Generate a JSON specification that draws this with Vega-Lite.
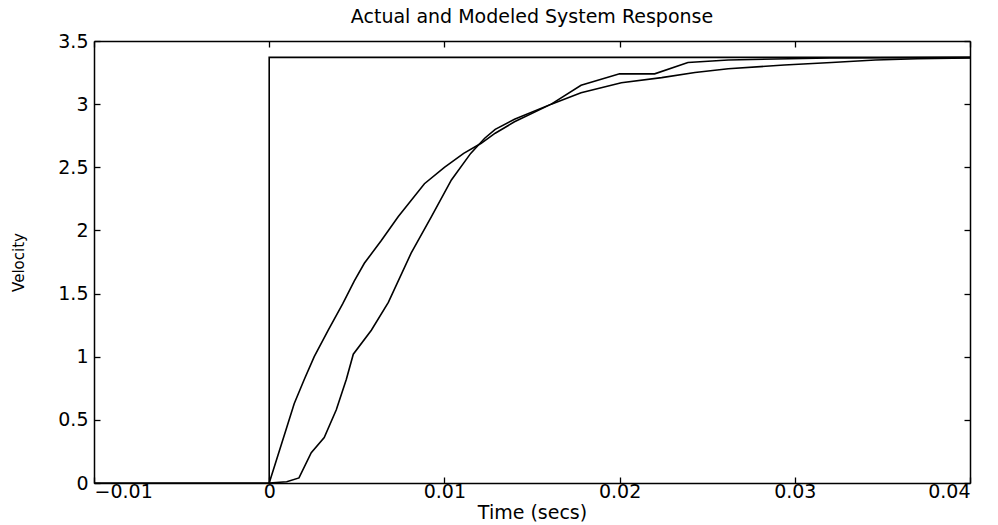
{
  "$schema": "https://vega.github.io/schema/vega-lite/v6.json",
  "width": 876,
  "height": 442,
  "autosize": {"type": "none"},
  "padding": {"left": 94, "top": 41, "right": 28, "bottom": 42},
  "background": "white",
  "title": {
    "text": "Actual and Modeled System Response",
    "font": "DejaVu Sans",
    "fontSize": 19,
    "fontWeight": "normal",
    "color": "black",
    "anchor": "middle",
    "baseline": "alphabetic",
    "offset": -10
  },
  "config": {
    "view": {"stroke": null},
    "axis": {
      "domainColor": "black",
      "domainWidth": 1.5,
      "tickColor": "black",
      "tickWidth": 1.3,
      "tickSize": -6,
      "grid": false,
      "labelFont": "DejaVu Sans",
      "labelFontSize": 19,
      "labelColor": "black",
      "titleColor": "black",
      "titleFontWeight": "normal",
      "titleFont": "DejaVu Sans"
    }
  },
  "datasets": {
    "input": [
      {"t": -0.01, "v": 0},
      {"t": 0, "v": 0},
      {"t": 0, "v": 3.37},
      {"t": 0.04, "v": 3.37}
    ],
    "curves": [
      {"series": "Model", "t": 0, "v": 0},
      {"series": "Model", "t": 0.0005, "v": 0.22},
      {"series": "Model", "t": 0.001, "v": 0.44},
      {"series": "Model", "t": 0.00143, "v": 0.63},
      {"series": "Model", "t": 0.002, "v": 0.82},
      {"series": "Model", "t": 0.00257, "v": 1.0},
      {"series": "Model", "t": 0.00337, "v": 1.21},
      {"series": "Model", "t": 0.0042, "v": 1.42},
      {"series": "Model", "t": 0.00486, "v": 1.6},
      {"series": "Model", "t": 0.00543, "v": 1.74},
      {"series": "Model", "t": 0.0064, "v": 1.92},
      {"series": "Model", "t": 0.00737, "v": 2.11},
      {"series": "Model", "t": 0.00886, "v": 2.37},
      {"series": "Model", "t": 0.01, "v": 2.5},
      {"series": "Model", "t": 0.0111, "v": 2.61},
      {"series": "Model", "t": 0.0121, "v": 2.69},
      {"series": "Model", "t": 0.0129, "v": 2.77},
      {"series": "Model", "t": 0.014, "v": 2.86},
      {"series": "Model", "t": 0.0161, "v": 3.0},
      {"series": "Model", "t": 0.0178, "v": 3.09},
      {"series": "Model", "t": 0.0201, "v": 3.17},
      {"series": "Model", "t": 0.0224, "v": 3.21},
      {"series": "Model", "t": 0.0243, "v": 3.25},
      {"series": "Model", "t": 0.0262, "v": 3.28},
      {"series": "Model", "t": 0.0294, "v": 3.31},
      {"series": "Model", "t": 0.0321, "v": 3.33},
      {"series": "Model", "t": 0.0346, "v": 3.35},
      {"series": "Model", "t": 0.037, "v": 3.36},
      {"series": "Model", "t": 0.04, "v": 3.365},
      {"series": "Actual", "t": 0, "v": 0},
      {"series": "Actual", "t": 0.001, "v": 0.01},
      {"series": "Actual", "t": 0.0017, "v": 0.04},
      {"series": "Actual", "t": 0.0024, "v": 0.24},
      {"series": "Actual", "t": 0.00314, "v": 0.36},
      {"series": "Actual", "t": 0.00383, "v": 0.58},
      {"series": "Actual", "t": 0.0044, "v": 0.82},
      {"series": "Actual", "t": 0.0048, "v": 1.02},
      {"series": "Actual", "t": 0.00583, "v": 1.21},
      {"series": "Actual", "t": 0.0068, "v": 1.43},
      {"series": "Actual", "t": 0.0081, "v": 1.82},
      {"series": "Actual", "t": 0.00926, "v": 2.11},
      {"series": "Actual", "t": 0.0104, "v": 2.4},
      {"series": "Actual", "t": 0.0115, "v": 2.61},
      {"series": "Actual", "t": 0.0123, "v": 2.73},
      {"series": "Actual", "t": 0.0129, "v": 2.8},
      {"series": "Actual", "t": 0.014, "v": 2.88},
      {"series": "Actual", "t": 0.0161, "v": 3.0},
      {"series": "Actual", "t": 0.0178, "v": 3.15},
      {"series": "Actual", "t": 0.02, "v": 3.24},
      {"series": "Actual", "t": 0.022, "v": 3.24},
      {"series": "Actual", "t": 0.0239, "v": 3.33},
      {"series": "Actual", "t": 0.0262, "v": 3.35},
      {"series": "Actual", "t": 0.032, "v": 3.365},
      {"series": "Actual", "t": 0.04, "v": 3.37}
    ]
  },
  "layer": [
    {
      "data": {"name": "input"},
      "mark": {"type": "line", "color": "black", "strokeWidth": 1.6},
      "encoding": {
        "x": {
          "field": "t",
          "type": "quantitative",
          "scale": {"domain": [-0.01, 0.04], "nice": false, "zero": false},
          "axis": {"orient": "top", "labels": false, "title": null, "values": [-0.01, 0, 0.01, 0.02, 0.03, 0.04]}
        },
        "y": {
          "field": "v",
          "type": "quantitative",
          "scale": {"domain": [0, 3.5], "nice": false},
          "axis": {"orient": "right", "labels": false, "title": null, "values": [0, 0.5, 1, 1.5, 2, 2.5, 3, 3.5]}
        },
        "order": {"value": null}
      }
    },
    {
      "data": {"name": "curves"},
      "mark": {"type": "line", "color": "black", "strokeWidth": 1.6},
      "encoding": {
        "x": {
          "field": "t",
          "type": "quantitative",
          "scale": {"domain": [-0.01, 0.04], "nice": false, "zero": false},
          "axis": {
            "orient": "bottom",
            "values": [-0.01, 0, 0.01, 0.02, 0.03, 0.04],
            "format": "~g",
            "labelPadding": 5,
            "title": "Time (secs)",
            "titleFontSize": 19,
            "titleBaseline": "alphabetic",
            "titleY": 35
          }
        },
        "y": {
          "field": "v",
          "type": "quantitative",
          "scale": {"domain": [0, 3.5], "nice": false},
          "axis": {
            "orient": "left",
            "values": [0, 0.5, 1, 1.5, 2, 2.5, 3, 3.5],
            "format": "~g",
            "labelPadding": 12,
            "title": "Velocity",
            "titleFontSize": 15,
            "titleAngle": -90,
            "titleBaseline": "alphabetic",
            "titleX": -71,
            "titleY": 221
          }
        },
        "detail": {"field": "series"},
        "order": {"value": null}
      }
    }
  ],
  "resolve": {"axis": {"x": "independent", "y": "independent"}}
}
